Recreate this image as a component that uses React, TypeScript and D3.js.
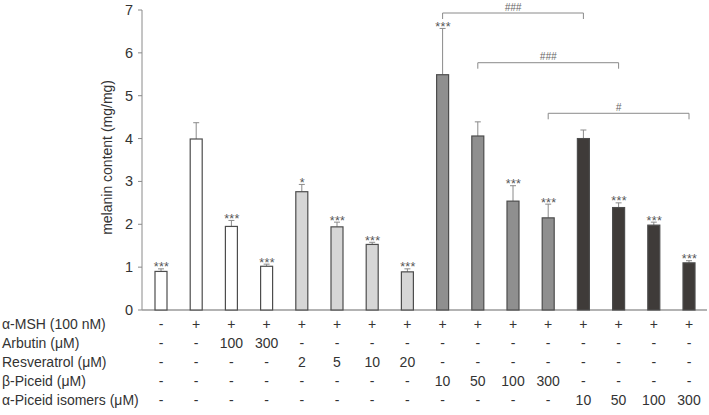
import React from 'react';
import * as d3 from 'd3';

const means = [0.9, 3.99, 1.95, 1.02, 2.76, 1.94, 1.53, 0.89, 5.49, 4.06, 2.54, 2.15, 4.0, 2.39, 1.98, 1.1];
const errors = [0.06, 0.38, 0.14, 0.05, 0.17, 0.11, 0.05, 0.07, 1.08, 0.33, 0.36, 0.32, 0.2, 0.11, 0.07, 0.05];
const marks = ['***', '', '***', '***', '*', '***', '***', '***', '***', '', '***', '***', '', '***', '***', '***'];
const groups = [0, 0, 0, 0, 1, 1, 1, 1, 2, 2, 2, 2, 3, 3, 3, 3];
const groupColors = ['#ffffff', '#d6d6d6', '#8f8f8f', '#3f3b39'];

const rowLabels = ['α-MSH (100 nM)', 'Arbutin (μM)', 'Resveratrol (μM)', 'β-Piceid (μM)', 'α-Piceid isomers (μM)'];
const rowMsh = ['-', '+', '+', '+', '+', '+', '+', '+', '+', '+', '+', '+', '+', '+', '+', '+'];
const rowArbutin = ['-', '-', '100', '300', '-', '-', '-', '-', '-', '-', '-', '-', '-', '-', '-', '-'];
const rowResveratrol = ['-', '-', '-', '-', '2', '5', '10', '20', '-', '-', '-', '-', '-', '-', '-', '-'];
const rowBeta = ['-', '-', '-', '-', '-', '-', '-', '-', '10', '50', '100', '300', '-', '-', '-', '-'];
const rowAlpha = ['-', '-', '-', '-', '-', '-', '-', '-', '-', '-', '-', '-', '10', '50', '100', '300'];
const rows = [rowMsh, rowArbutin, rowResveratrol, rowBeta, rowAlpha];

const bracketFrom = [8, 9, 11];
const bracketTo = [12, 13, 15];
const bracketLevel = [6.93, 5.77, 4.59];
const bracketText = ['###', '###', '#'];

const yTicks = [0, 1, 2, 3, 4, 5, 6, 7];

const W = 709;
const H = 415;
const font = "'Liberation Sans', Arial, sans-serif";

const App = () => {
  const x = d3.scalePoint<number>()
    .domain(d3.range(means.length))
    .range([143.4, 706.6])
    .padding(0.5);
  const y = d3.scaleLinear().domain([0, 7]).range([310, 10]);
  const barW = 12;
  const rowY = d3.scalePoint<number>().domain(d3.range(rows.length)).range([324, 400]);

  return (
    <svg width={W} height={H} style={{ position: 'absolute', left: 0, top: 0 }} fontFamily={font}>
      <rect width={W} height={H} fill="#fff" />

      {/* axes */}
      <line x1={142} x2={142} y1={y(7)} y2={y(0)} stroke="#8a8a8a" />
      <line x1={142} x2={707} y1={y(0)} y2={y(0)} stroke="#9a9a9a" strokeWidth={1.5} />
      {yTicks.map((t) => (
        <g key={t}>
          <line x1={138} x2={142} y1={y(t)} y2={y(t)} stroke="#8a8a8a" />
          <text x={133} y={y(t)} textAnchor="end" dominantBaseline="central" fontSize={14.5} fill="#333">
            {t}
          </text>
        </g>
      ))}
      <text
        transform={`translate(107, ${y(3.56)}) rotate(-90)`}
        textAnchor="middle"
        dominantBaseline="central"
        fontSize={14}
        fill="#333"
      >
        melanin content (mg/mg)
      </text>

      {/* bars */}
      {means.map((m, i) => {
        const cx = x(i)!;
        const top = y(m + errors[i]);
        return (
          <g key={i}>
            <line x1={cx} x2={cx} y1={y(m)} y2={top} stroke="#8a8a8a" />
            <line x1={cx - 3} x2={cx + 3} y1={top} y2={top} stroke="#8a8a8a" />
            <rect
              x={cx - barW / 2}
              y={y(m)}
              width={barW}
              height={y(0) - y(m)}
              fill={groupColors[groups[i]]}
              stroke="#4d4d4d"
              strokeWidth={1.2}
            />
            {marks[i] && (
              <text
                x={cx + 0.5}
                y={top + 2.5}
                textAnchor="middle"
                fontSize={12.5}
                letterSpacing={0.3}
                fill="#555"
              >
                {marks[i]}
              </text>
            )}
          </g>
        );
      })}

      {/* brackets */}
      {bracketFrom.map((f, k) => {
        const x1 = x(f)!;
        const x2 = x(bracketTo[k])!;
        const by = y(bracketLevel[k]);
        return (
          <g key={k}>
            <path d={`M${x1},${by + 6}V${by}H${x2}V${by + 6}`} fill="none" stroke="#8a8a8a" />
            <text x={(x1 + x2) / 2} y={by - 2.5} textAnchor="middle" fontSize={10} fontStyle="italic" fill="#666">
              {bracketText[k]}
            </text>
          </g>
        );
      })}

      {/* treatment table */}
      {rowLabels.map((label, r) => (
        <g key={label}>
          <text x={2} y={rowY(r)} dominantBaseline="central" fontSize={14} fill="#333">
            {label}
          </text>
          {rows[r].map((v, i) => (
            <text key={i} x={x(i)} y={rowY(r)} textAnchor="middle" dominantBaseline="central" fontSize={14} fill="#333">
              {v}
            </text>
          ))}
        </g>
      ))}
    </svg>
  );
};

export default App;
